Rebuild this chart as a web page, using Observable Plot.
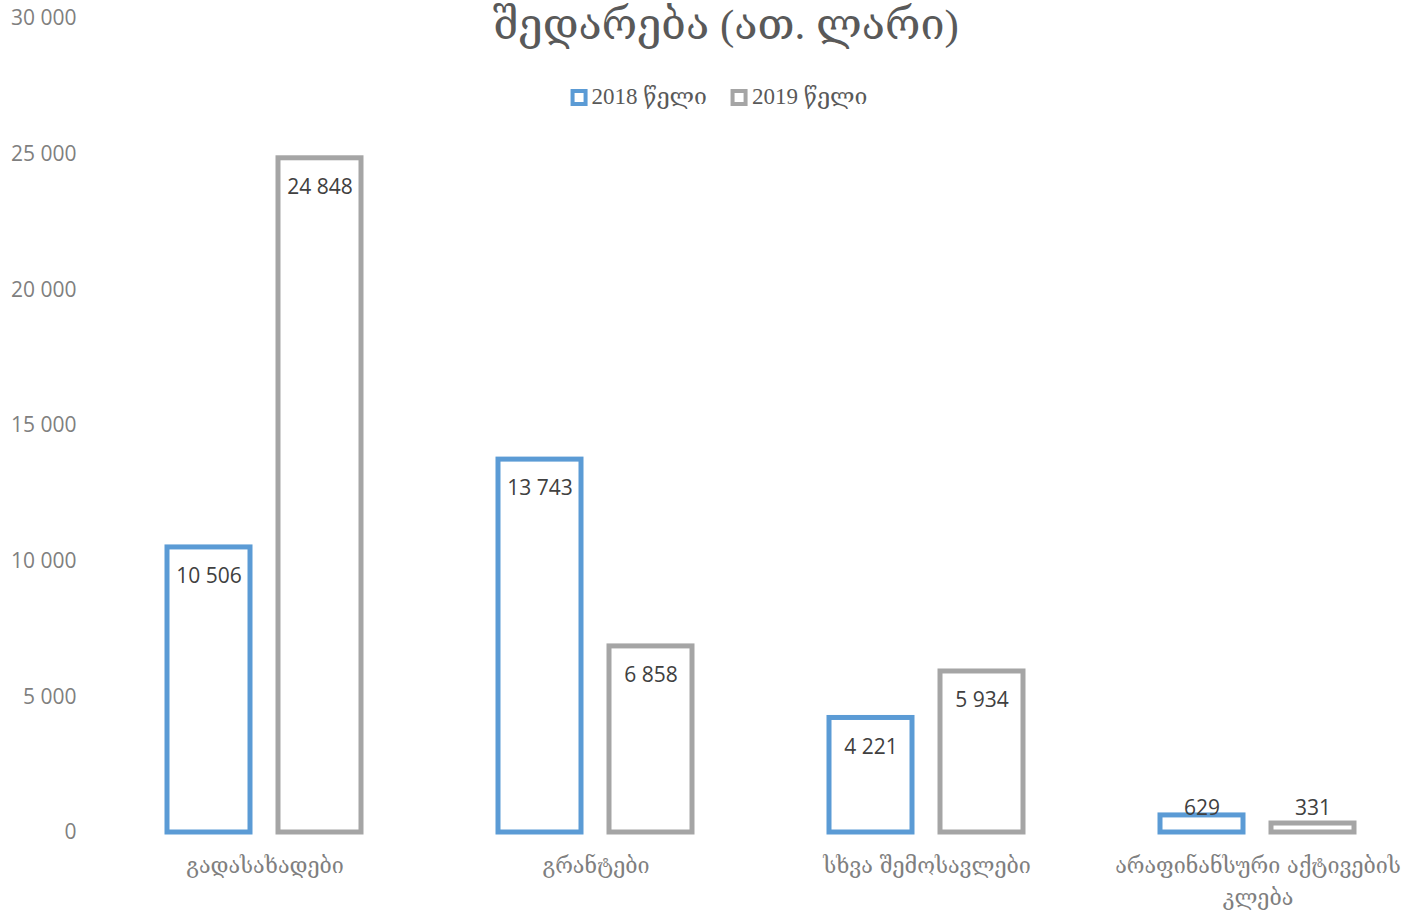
<!DOCTYPE html>
<html>
<head>
<meta charset="utf-8">
<script src="https://cdn.jsdelivr.net/npm/d3@7"></script>
<script src="https://cdn.jsdelivr.net/npm/@observablehq/plot@0.6"></script>
<style>
  html, body { margin: 0; padding: 0; background: #fff; }
  #wrap { position: relative; width: 1419px; height: 916px; overflow: hidden; }
  #title { position: absolute; left: 726px; top: 0px; transform: translateX(-50%);
    font-family: "Liberation Serif", "DejaVu Serif", serif; font-size: 43px; line-height: 50px;
    color: #595959; white-space: nowrap; }
  #legend { position: absolute; left: 719px; top: 84px; transform: translateX(-50%);
    display: flex; align-items: center; gap: 24px; white-space: nowrap;
    font-family: "Liberation Serif", "DejaVu Serif", serif; font-size: 23px; line-height: 26px; color: #595959; }
  .item { display: flex; align-items: center; gap: 4px; }
  .sw { width: 9px; height: 9px; border: 4px solid; background: #fff; }
  #chart { position: absolute; left: 0; top: 0; }
</style>
</head>
<body>
<div id="wrap">
  <div id="chart"></div>
  <div id="title"></div>
  <div id="legend"></div>
</div>
<script>
const titleText = "შედარება (ათ. ლარი)";
const categories = ["გადასახადები", "გრანტები", "სხვა შემოსავლები", "არაფინანსური აქტივების კლება"];
const categoryLabels = ["გადასახადები", "გრანტები", "სხვა შემოსავლები", "არაფინანსური აქტივების\nკლება"];
const years = ["2018 წელი", "2019 წელი"];
const values2018 = [10506, 13743, 4221, 629];
const values2019 = [24848, 6858, 5934, 331];
const yTicks = [0, 5000, 10000, 15000, 20000, 25000, 30000];
const colors = ["#5B9BD5", "#A5A5A5"];
const labelFloor = 1950; // small bars: label sits above the bar

const data = categories.flatMap((c, i) => [
  {cat: c, year: years[0], value: values2018[i]},
  {cat: c, year: years[1], value: values2019[i]}
]);

const locale = d3.formatLocale({decimal: ",", thousands: " ", grouping: [3], currency: ["", ""]});
const fmt = locale.format(",d");

document.getElementById("title").textContent = titleText;
const legend = document.getElementById("legend");
years.forEach((y, i) => {
  const item = document.createElement("div");
  item.className = "item";
  const sw = document.createElement("div");
  sw.className = "sw";
  sw.style.borderColor = colors[i];
  const t = document.createElement("span");
  t.textContent = y;
  item.appendChild(sw);
  item.appendChild(t);
  legend.appendChild(item);
});

const chart = Plot.plot({
  width: 1419,
  height: 916,
  marginTop: 18,
  marginBottom: 84,
  marginLeft: 98,
  marginRight: 0,
  style: {fontFamily: "'Open Sans', 'DejaVu Sans', sans-serif", color: "#7f7f7f", background: "transparent"},
  fx: {domain: categories, padding: 0, range: [98, 1424], label: null},
  x: {domain: years, paddingInner: 0.25, paddingOuter: 0.605, axis: null},
  y: {domain: [0, 30000], axis: null},
  color: {domain: years, range: colors},
  marks: [
    Plot.axisY({ticks: yTicks, tickSize: 0, tickPadding: 23, tickFormat: fmt, fontSize: 21, label: null}),
    Plot.axisFx({anchor: "bottom", tickSize: 0, tickPadding: 18, fontSize: 21.5, lineHeight: 1.48,
      fontFamily: "'DejaVu Serif', serif",
      tickFormat: d => categoryLabels[categories.indexOf(d)], label: null}),
    Plot.barY(data, {fx: "cat", x: "year", y: "value", fill: "white", stroke: "year", strokeWidth: 5}),
    Plot.text(data, {fx: "cat", x: "year", y: d => Math.max(d.value, labelFloor), text: d => fmt(d.value),
      dy: 29, fill: "#404040", fontSize: 21})
  ]
});
document.getElementById("chart").appendChild(chart);
</script>
</body>
</html>
